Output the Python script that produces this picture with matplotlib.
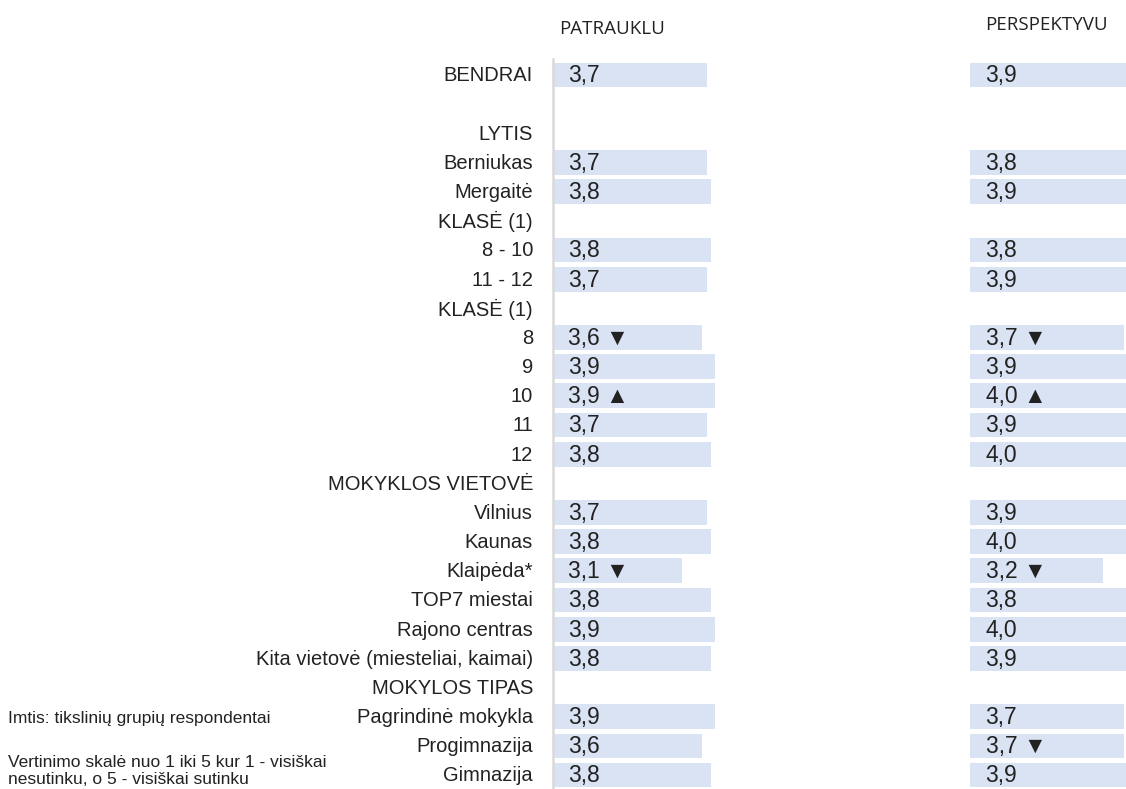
import matplotlib
matplotlib.use("Agg")
import matplotlib.pyplot as plt

plt.rcParams['font.family'] = ['Liberation Sans', 'DejaVu Sans']

categories = ["BENDRAI", "", "LYTIS", "Berniukas", "Mergaitė", "KLASĖ (1)", "8 - 10", "11 - 12",
              "KLASĖ (1)", "8", "9", "10", "11", "12", "MOKYKLOS VIETOVĖ", "Vilnius", "Kaunas",
              "Klaipėda*", "TOP7 miestai", "Rajono centras", "Kita vietovė (miesteliai, kaimai)",
              "MOKYLOS TIPAS", "Pagrindinė mokykla", "Progimnazija", "Gimnazija"]
patrauklu = [3.7, None, None, 3.7, 3.8, None, 3.8, 3.7, None, 3.6, 3.9, 3.9, 3.7, 3.8, None,
             3.7, 3.8, 3.1, 3.8, 3.9, 3.8, None, 3.9, 3.6, 3.8]
perspektyvu = [3.9, None, None, 3.8, 3.9, None, 3.8, 3.9, None, 3.7, 3.9, 4.0, 3.9, 4.0, None,
               3.9, 4.0, 3.2, 3.8, 4.0, 3.9, None, 3.7, 3.7, 3.9]
patrauklu_sig = ["", "", "", "", "", "", "", "", "", "▼", "", "▲", "", "", "",
                 "", "", "▼", "", "", "", "", "", "", ""]
perspektyvu_sig = ["", "", "", "", "", "", "", "", "", "▼", "", "▲", "", "", "",
                   "", "", "▼", "", "", "", "", "", "▼", ""]
headers = ["PATRAUKLU", "PERSPEKTYVU"]
notes = ["Imtis: tikslinių grupių respondentai",
         "Vertinimo skalė nuo 1 iki 5 kur 1 - visiškai\nnesutinku, o 5 - visiškai sutinku"]

W, H = 1126, 789
fig = plt.figure(figsize=(W / 100, H / 100), dpi=100)

PX = 41.5       # px per unit
PITCH = 29.17   # px per row
ROW0 = 75       # y px of first row
TOP = 59
BAR_COLOR = "#DAE3F3"
TXT = "#222222"

ytop = (TOP - ROW0) / PITCH
ybot = (H - ROW0) / PITCH


def make_ax(x0, x1):
    ax = fig.add_axes([x0 / W, 0, (x1 - x0) / W, (H - TOP) / H])
    ax.set_xlim(0, (x1 - x0) / PX)
    ax.set_ylim(ybot, ytop)
    ax.set_axis_off()
    return ax


axL = make_ax(553, 900)
axR = make_ax(970, W)

n = len(categories)
for ax, vals, sigs in [(axL, patrauklu, patrauklu_sig), (axR, perspektyvu, perspektyvu_sig)]:
    idx = [i for i in range(n) if vals[i] is not None]
    ax.barh(idx, [vals[i] for i in idx], height=0.85, color=BAR_COLOR, align='center')
    for i in idx:
        s = f"{vals[i]:.1f}".replace(".", ",")
        if sigs[i]:
            s += " " + sigs[i]
        ax.text(15.5 / PX, i + 0.03, s, va='center', ha='left', fontsize=16.5, color=TXT)

# vertical axis line on the left panel
axL.plot([-0.5 / PX, -0.5 / PX], [ybot, ytop], color="#D9D9D9", lw=1.8, clip_on=False)

for i, c in enumerate(categories):
    if c:
        axL.text(-20 / PX, i + 0.03, c, va='center', ha='right', fontsize=14.5, color=TXT)

fig.text(612 / W, 1 - 29 / H, headers[0], ha='center', va='center', fontsize=13.5,
         family=['Open Sans', 'DejaVu Sans'], color=TXT)
fig.text(1046 / W, 1 - 25 / H, headers[1], ha='center', va='center', fontsize=13.5,
         family=['Open Sans', 'DejaVu Sans'], color=TXT)

fig.text(8 / W, 1 - 718 / H, notes[0], ha='left', va='center', fontsize=12.5, color=TXT)
fig.text(8 / W, 1 - 771 / H, notes[1], ha='left', va='center', fontsize=12.5, color=TXT,
         linespacing=1.12)

fig.savefig("out.png", dpi=100, facecolor="white")
